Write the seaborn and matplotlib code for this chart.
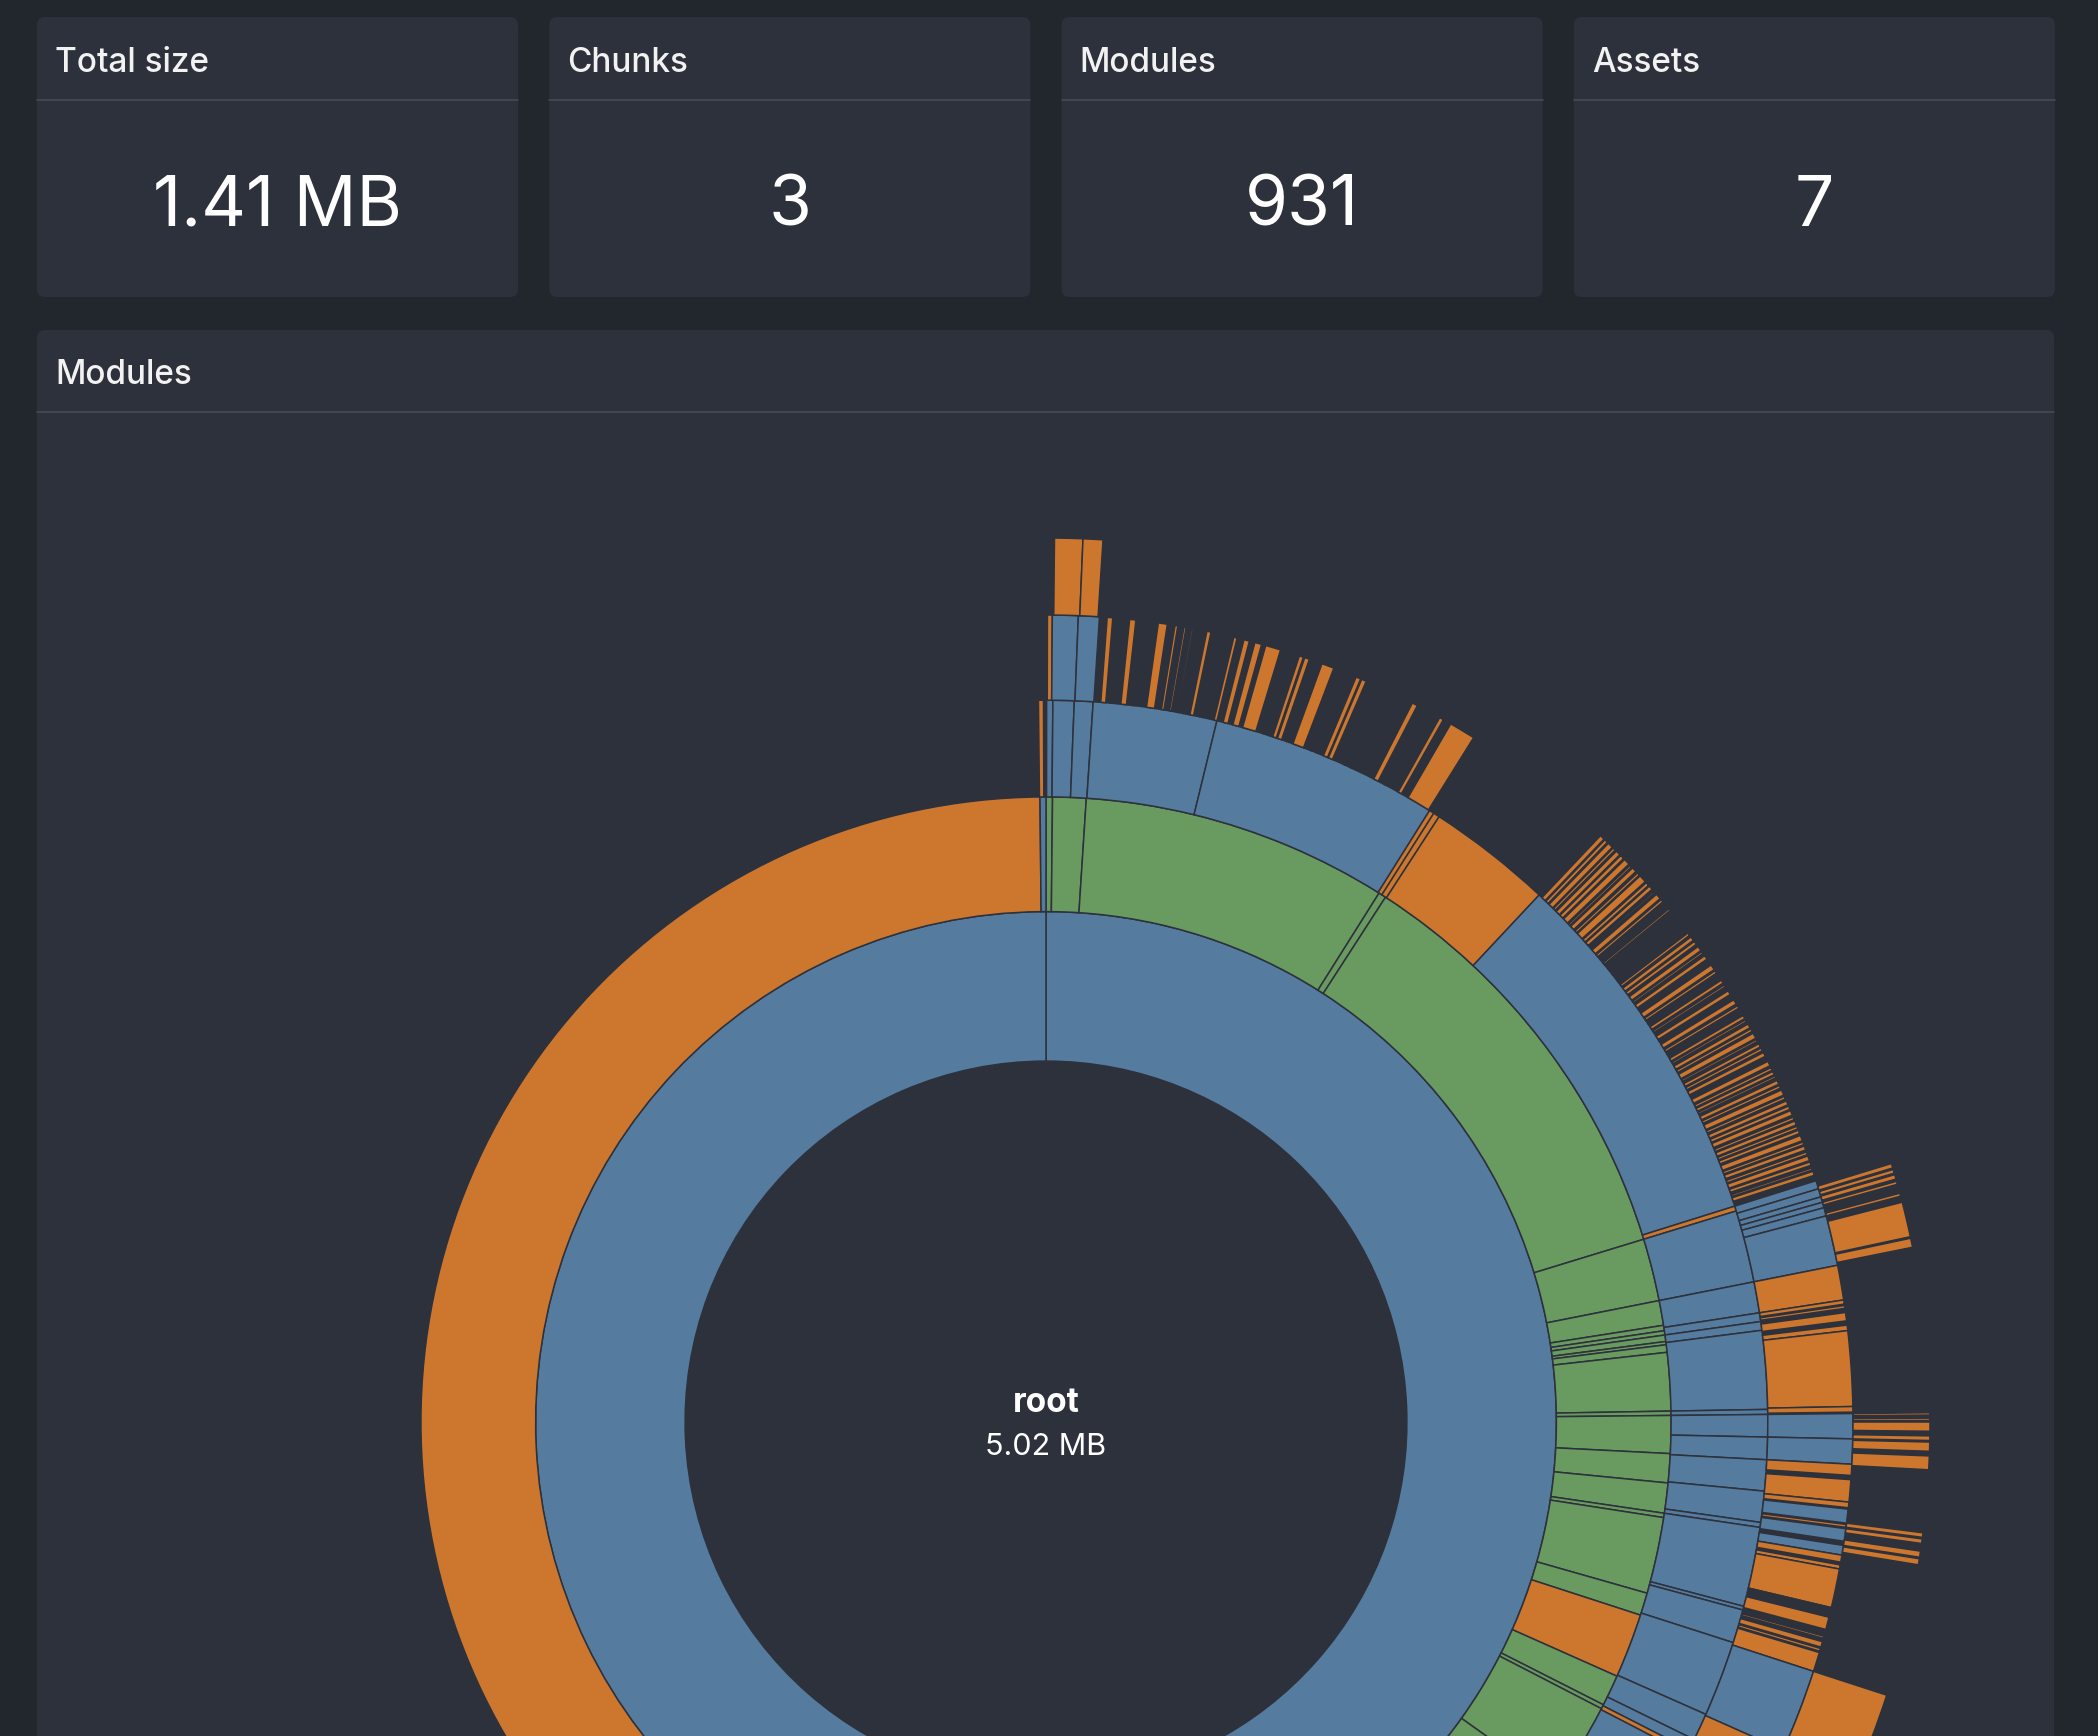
import numpy as np
import matplotlib
matplotlib.use("Agg")
import matplotlib.pyplot as plt
from matplotlib.patches import FancyBboxPatch
import seaborn as sns

# headline numbers
STAT_TITLES = ["Total size", "Chunks", "Modules", "Assets"]
STAT_VALUES = ["1.41 MB", "3", "931", "7"]

PANEL_TITLE = "Modules"
ROOT_LABEL = "root"
ROOT_SIZE = "5.02 MB"

# sunburst cells per depth, clockwise from 12 o'clock
# (share of the circle in degrees, kind)  b = folder, g = chunk, o = file, - = nothing
RING1 = [(175.0, "b"), (185.0, "b")]

RING2 = [(0.6, "g"), (3.1, "g"), (28.5, "g"), (0.7, "g"), (40.1, "g"), (5.8, "g"),
         (2.3, "g"), (0.5, "g"), (0.4, "g"), (0.6, "g"), (0.3, "g"), (0.7, "g"),
         (5.4, "g"), (0.4, "g"), (3.5, "g"), (2.7, "g"), (2.8, "g"), (0.4, "g"),
         (7.1, "g"), (2.1, "g"), (6.0, "o"), (2.9, "g"), (0.4, "g"), (8.2, "g"),
         (14.5, "g"), (18.0, "o"), (17.0, "g"), (184.45, "o"), (0.55, "b")]

RING3 = [(0.05, "-"), (0.5, "b"), (1.7, "b"), (1.5, "b"), (9.95, "b"), (18.4, "b"),
         (0.4, "o"), (0.5, "o"), (10.1, "o"), (29.5, "b"), (0.4, "o"), (5.8, "b"),
         (2.5, "b"), (0.7, "b"), (0.7, "b"), (6.3, "b"), (0.4, "b"), (1.8, "b"),
         (1.8, "b"), (2.5, "b"), (2.5, "b"), (0.4, "b"), (6.4, "b"), (0.3, "b"),
         (2.7, "b"), (6.1, "b"), (2.2, "b"), (0.9, "b"), (0.4, "o"), (8.1, "b"),
         (14.5, "b"), (219.4, "-"), (0.4, "o"), (0.2, "-")]

RING4_HEAD = [(0.1, "-"), (0.35, "o"), (1.85, "b"), (1.5, "b")]
# lots of small files, alternating gap / file
RING4_FILES_A = [0.55, 0.4, 0.3, 0.1, 0.8, 0.45, 0.5, 0.1, 1.0, 0.65, 0.55, 0.2, 0.45, 0.15,
                 0.4, 0.12, 0.38, 0.08, 0.52, 0.3, 0.45, 0.08, 0.2, 0.08, 0.85, 0.24, 0.5,
                 0.4, 0.4, 0.5, 0.3, 1.1, 0.6, 0.08, 0.4, 0.08, 0.24, 0.3, 0.1, 0.35, 0.35,
                 0.08, 0.52, 0.9, 0.6, 0.08, 0.4, 0.08, 0.54, 0.35, 0.08, 0.35, 1.0, 0.08,
                 0.5, 0.08, 1.96, 0.4, 0.6, 0.08, 1.12, 0.3, 0.6, 1.9, 0.1]
RING4_FILES_B = [11.3,
                 0.35, 0.08, 0.25, 0.1, 0.4, 0.08, 0.2, 0.12, 0.35, 0.08,
                 0.3, 0.1, 0.45, 0.12, 0.15, 0.1, 0.35, 0.15, 0.2, 0.08,
                 0.55, 0.1, 0.25, 0.08, 0.3, 0.2, 0.12, 0.15, 0.4, 0.1,
                 0.2, 0.25, 0.1, 0.3, 0.15, 0.5, 0.08, 0.4, 0.08, 0.6,
                 0.08, 0.3, 0.2, 0.15, 0.3, 0.1, 0.25, 0.2, 0.35, 0.1,
                 0.15, 0.2, 0.3, 0.15, 0.1, 0.25, 0.4, 0.1, 0.2, 0.3,
                 0.1, 0.2, 0.25, 0.15, 0.15, 0.35, 0.3, 0.1, 0.1, 0.25,
                 0.35, 0.15, 0.2, 0.2, 0.1, 0.3, 0.25, 0.1, 0.15, 0.2,
                 0.3, 0.1, 0.2, 0.15, 0.4, 0.1, 0.15, 0.2, 0.25, 0.1,
                 0.2, 0.15, 0.3, 0.1, 0.1, 0.2, 0.35, 0.15, 0.2, 0.1,
                 0.25, 0.1, 0.15, 0.2, 0.3, 0.1, 0.2, 0.15, 0.4, 0.1,
                 0.2, 0.15, 0.3, 0.1, 0.25, 0.1, 0.35, 0.15, 0.2, 0.1,
                 0.3, 0.1, 0.2, 0.1, 0.25, 0.15, 0.4, 0.1, 0.2, 0.1,
                 0.3, 0.15, 0.2, 0.1, 0.35, 0.1, 0.25, 0.2, 0.15, 0.1,
                 0.3, 0.40]
RING4_TAIL = [(0.6, "b"), (0.6, "b"), (0.4, "b"), (0.4, "b"), (0.6, "b"), (3.6, "b"),
              (2.5, "o"), (0.3, "o"), (0.1, "-"), (0.2, "o"), (0.3, "-"), (0.6, "o"),
              (0.3, "-"), (0.4, "o"), (5.4, "o"), (0.4, "o"), (0.1, "-"),
              (1.8, "b"), (1.8, "b"),
              (0.8, "o"), (0.3, "-"), (1.6, "o"), (0.4, "o"), (0.1, "-"),
              (1.0, "b"), (0.1, "-"), (0.2, "o"), (0.1, "-"), (0.9, "b"), (0.3, "-"), (0.7, "b"),
              (0.5, "o"), (0.2, "-"), (0.3, "o"), (2.8, "o"),
              (0.1, "o"), (0.15, "-"), (0.1, "o"), (0.35, "-"), (0.9, "o"),
              (0.2, "-"), (0.1, "o"), (0.2, "-"), (0.15, "o"), (0.25, "-"),
              (0.4, "o"), (0.1, "-"), (0.2, "o"), (0.1, "-"), (1.4, "o"),
              (6.0, "b"), (3.5, "o"), (8.0, "b"), (14.5, "o"), (220.0, "-")]

RING5 = [(0.55, "-"), (1.85, "o"), (1.3, "o"), (0.05, "-"), (0.1, "o"), (69.15, "-"),
         (0.3, "o"), (0.1, "-"), (0.25, "o"), (0.1, "-"), (0.3, "o"), (0.15, "-"),
         (0.2, "o"), (0.1, "-"), (0.1, "o"), (0.2, "-"), (0.1, "o"), (0.1, "-"),
         (0.2, "o"), (0.1, "-"), (0.1, "o"), (0.2, "-"),
         (2.3, "o"), (0.1, "-"), (0.6, "o"), (10.8, "-"),
         (0.15, "o"), (0.05, "-"), (0.1, "o"), (0.05, "-"), (0.15, "o"), (0.1, "-"),
         (0.6, "o"), (0.3, "-"), (0.3, "o"), (0.1, "-"), (0.6, "o"), (0.1, "-"),
         (0.1, "o"), (0.1, "-"), (0.9, "o"), (3.2, "-"),
         (0.08, "o"), (0.2, "-"), (0.08, "o"), (0.2, "-"), (0.08, "o"), (0.26, "-"),
         (0.3, "o"), (0.1, "-"), (0.3, "o"), (0.5, "-"), (0.4, "o"), (0.1, "-"), (0.4, "o"),
         (8.7, "-"), (6.0, "o"), (246.0, "-")]

PAGE_BG = "#22262d"
PANEL_BG = "#2d313c"
RULE = "#464b56"
TEXT = "#f2f2f2"

sns.set_theme(style="dark", rc={"figure.facecolor": PAGE_BG, "axes.facecolor": PANEL_BG})
plt.rcParams["font.family"] = ["Inter", "DejaVu Sans"]
blue, green, orange = sns.color_palette(["#557b9f", "#699a5f", "#cc772d"])
PALETTE = {"b": blue, "g": green, "o": orange}


def alternating(sizes, kind):
    return [(s, "-" if i % 2 == 0 else kind) for i, s in enumerate(sizes)]


ring4 = RING4_HEAD + alternating(RING4_FILES_A, "o") + alternating(RING4_FILES_B, "o") + RING4_TAIL
rings = [RING1, RING2, RING3, ring4, RING5]

W, H = 2098, 1736
fig = plt.figure(figsize=(W / 100, H / 100), dpi=100)

bg = fig.add_axes([0, 0, 1, 1])
bg.set_xlim(0, W)
bg.set_ylim(H, 0)
bg.axis("off")

card_w, card_step = 481, 512.3
for i, (title, value) in enumerate(zip(STAT_TITLES, STAT_VALUES)):
    x0 = 37 + i * card_step
    bg.add_patch(FancyBboxPatch((x0, 17), card_w, 280, boxstyle="round,pad=0,rounding_size=8",
                                fc=PANEL_BG, ec="none"))
    bg.plot([x0, x0 + card_w], [100, 100], color=RULE, lw=1.2)
    bg.text(x0 + 18, 72, title, color=TEXT, fontsize=24, fontweight="medium", va="baseline")
    bg.text(x0 + card_w / 2, 226, value, color="white", fontsize=50, va="baseline", ha="center")

bg.add_patch(FancyBboxPatch((37, 330), 2017, 1450, boxstyle="round,pad=0,rounding_size=8",
                            fc=PANEL_BG, ec="none"))
bg.plot([37, 2054], [412, 412], color=RULE, lw=1.2)
bg.text(55, 384, PANEL_TITLE, color=TEXT, fontsize=24, fontweight="medium", va="baseline")

# sunburst: d3 style sqrt radius, 1 data unit = 1 pixel
cx, cy, outer, lim = 1046, 1422, 884, 890
ax = fig.add_axes([(cx - lim) / W, (H - cy - lim) / H, 2 * lim / W, 2 * lim / H], projection="polar")
ax.set_theta_zero_location("N")
ax.set_theta_direction(-1)
ax.set_ylim(0, lim)
ax.set_axis_off()

for depth, cells in enumerate(rings, 1):
    sizes = np.array([s for s, _ in cells])
    kinds = [k for _, k in cells]
    starts = np.concatenate([[0.0], np.cumsum(sizes)[:-1]])
    keep = [i for i, k in enumerate(kinds) if k != "-"]
    r0 = outer * np.sqrt(depth / 6)
    r1 = outer * np.sqrt((depth + 1) / 6)
    ax.bar(np.deg2rad(starts[keep]), r1 - r0, width=np.deg2rad(sizes[keep]), bottom=r0,
           align="edge", color=[PALETTE[kinds[i]] for i in keep],
           edgecolor=PANEL_BG, linewidth=1.1)

# center labels, drawn at figure level so they sit above the polar axes
fig.text(cx, 1412, ROOT_LABEL, transform=bg.transData, color="white", fontsize=24,
         fontweight="bold", ha="center", va="baseline", zorder=5)
fig.text(cx, 1455, ROOT_SIZE, transform=bg.transData, color="white", fontsize=22,
         ha="center", va="baseline", zorder=5)

fig.savefig("out.png", dpi=100, facecolor=PAGE_BG)
